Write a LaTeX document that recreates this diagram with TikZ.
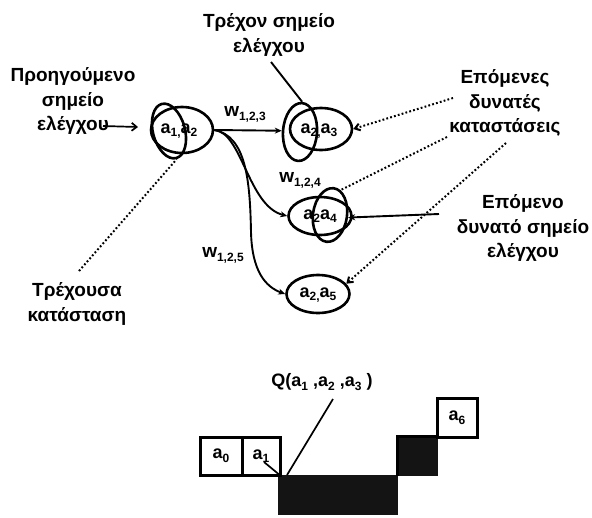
\documentclass[tikz,border=0pt]{standalone}
\usepackage{fontspec}
\setmainfont{Liberation Sans}
\usetikzlibrary{arrows.meta,shapes.geometric}
% subscript set in the text font
\newcommand{\lowidx}[1]{\raisebox{-0.38ex}{\fontsize{12}{12}\selectfont\bfseries #1}}

\begin{document}
\begin{tikzpicture}[x=1pt,y=-1pt,line width=1.9pt,
  lbl/.style={font=\fontsize{19}{24.5}\selectfont\bfseries,align=center,inner sep=0pt},
  stxt/.style={font=\fontsize{18}{20}\selectfont\bfseries,inner sep=0pt},
  ring/.style={draw,ellipse,line width=2.6pt,inner sep=0pt},
  solidarrow/.style={-{Stealth[length=7pt,width=6pt]}},
  dotarrow/.style={line width=2pt,dash pattern=on 1.8pt off 2.2pt,-{Straight Barb[length=5pt,width=7pt]}},
  dotline/.style={line width=2pt,dash pattern=on 1.8pt off 2.2pt},
  cell/.style={draw,line width=3pt,fill=white}]
\useasboundingbox (0,0) rectangle (592,517);

% state ellipses and their overlapping control-point rings
\node[ring,minimum width=62pt,minimum height=46pt] (n1) at (182,130) {};
\node[ring,minimum width=32pt,minimum height=56pt,rotate=15] (v1) at (169,131) {};
\node[stxt] (t1) at (179,131) {a\lowidx{1,}a\lowidx{2}};

\node[ring,minimum width=62pt,minimum height=42pt] (n2) at (321,129) {};
\node[ring,minimum width=34pt,minimum height=58pt,rotate=-4] (v2) at (300,132) {};
\node[stxt] (t2) at (319,131) {a\lowidx{2,}a\lowidx{3}};

\node[ring,minimum width=63pt,minimum height=38pt] (n3) at (320,216) {};
\node[ring,minimum width=34pt,minimum height=54pt,rotate=-8] (v3) at (330,215) {};
\node[stxt] (t3) at (320,216) {a\lowidx{2}a\lowidx{4}};

\node[ring,minimum width=63pt,minimum height=38pt] (n4) at (318,294) {};
\node[stxt] (t4) at (318,295) {a\lowidx{2,}a\lowidx{5}};

% text labels
\node[lbl] (tcur) at (269,35) {Τρέχον σημείο\\ελέγχου};
\node[lbl] (tprev) at (73,101) {Προηγούμενο\\σημείο\\ελέγχου};
\node[lbl] (tnexts) at (505,103) {Επόμενες\\δυνατές\\καταστάσεις};
\node[lbl] (tnext) at (523,228) {Επόμενο\\δυνατό σημείο\\ελέγχου};
\node[lbl] (tstate) at (77,304) {Τρέχουσα\\κατάσταση};

\node[stxt,font=\fontsize{19}{20}\selectfont\bfseries] (w3) at (245,114) {w\lowidx{1,2,3}};
\node[stxt,font=\fontsize{19}{20}\selectfont\bfseries] (w4) at (300,180) {w\lowidx{1,2,4}};
\node[stxt,font=\fontsize{19}{20}\selectfont\bfseries] (w5) at (223,255) {w\lowidx{1,2,5}};

% transitions
\draw[solidarrow] (n1.east) -- (v2.west);
\draw[solidarrow] (n1.east) .. controls (242,132) and (248,206) .. (n3.west);
\draw[solidarrow] (n1.east) .. controls (246,136) and (250,180) .. (251,232)
  .. controls (252,272) and (266,287) .. (n4.west);

% pointers from the labels
\coordinate (pa) at (103,126);
\coordinate (pb) at (138,127);
\draw[-{Straight Barb[length=5pt,width=8pt]},line width=1.7pt] (pa) -- (pb);
\coordinate (cs) at (271,62);
\draw (cs) -- (v2.north);
\coordinate (ss) at (79,271);
\draw[dotline] (ss) -- (v1.south);
\coordinate (e1) at (453,98);
\coordinate (e2) at (447,137);
\coordinate (e3) at (506,143);
\draw[dotarrow] (e1) -- (n2.east);
\draw[dotline] (e2) -- (v3.75);
\draw[dotarrow] (e3) -- (n4.20);
\coordinate (nx) at (439,214);
\draw[solidarrow] (nx) -- (v3.east);

% lower strip of cells
\fill[black!92] (278,475) rectangle (398,515);
\fill[black!92] (397,436) rectangle (438,476);
\draw[line width=3pt] (397,476) -- (397,436) -- (438,436);
\node[cell,minimum width=42pt,minimum height=38pt] (c0) at (221,456) {};
\node[cell,minimum width=38pt,minimum height=38pt] (c1) at (261,456) {};
\node[cell,minimum width=40pt,minimum height=39pt] (c6) at (457,418) {};
\node[stxt] at (c0) {a\lowidx{0}};
\node[stxt] at (c1) {a\lowidx{1}};
\node[stxt] at (c6) {a\lowidx{6}};
\node[stxt] (q) at (322,382) {Q(a\lowidx{1} ,a\lowidx{2} ,a\lowidx{3} )};
\coordinate (qe) at (287,475);
\draw[line width=1.7pt] (333,399) -- (qe);
\draw[line width=1.7pt] (264,462) -- (c1.south east);
\end{tikzpicture}
\end{document}
